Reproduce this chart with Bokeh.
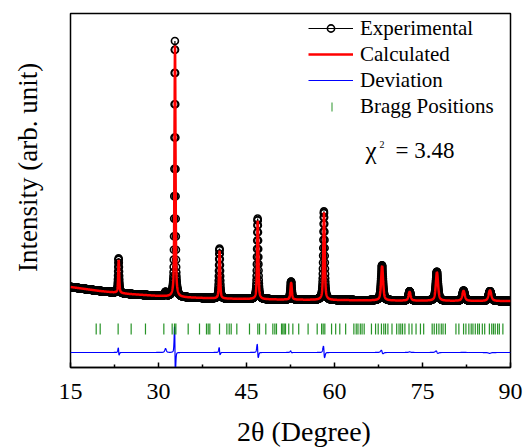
import numpy as np
from bokeh.plotting import figure
from bokeh.layouts import row, column
from bokeh.models import Range1d, FixedTicker, Legend, LegendItem, Label, ColumnDataSource
from bokeh.core.properties import value
from bokeh.embed import file_html
from bokeh.resources import INLINE

# ---------------- data ----------------
scan_start, scan_stop, scan_step = 15.0, 90.0, 0.02
bg_x = [15, 20, 25, 30, 35, 40, 50, 60, 70, 80, 90]
bg_y = [655, 615, 585, 565, 550, 540, 530, 524, 519, 516, 514]
peak_pos = [23.20, 31.20, 32.80, 40.40, 46.90, 52.60, 58.20, 68.10, 72.80, 77.45, 82.00, 86.50]
peak_fwhm = [0.20, 0.30, 0.20, 0.22, 0.25, 0.28, 0.28, 0.40, 0.42, 0.45, 0.50, 0.55]
exp_height = [345, 40, 2558, 500, 807, 180, 886, 352, 94, 291, 102, 98]
calc_height = [330, 0, 2520, 480, 785, 170, 877, 345, 88, 286, 100, 106]
calc_shift = [0.016, 0.0, 0.014, 0.012, 0.016, 0.010, 0.014, 0.015, 0.0, 0.014, 0.0, -0.005]
bragg_pos = [19.38, 20.06, 23.12, 25.34, 27.78, 30.91, 32.33, 32.73, 32.96, 35.06,
             36.99, 38.18, 38.47, 38.75, 40.40, 41.65, 42.05, 42.39, 43.35, 45.51,
             46.93, 47.22, 48.29, 49.49, 49.83, 50.11, 50.97, 51.19, 51.42, 51.65,
             52.20, 52.90, 53.90, 55.50, 57.05, 57.80, 58.07, 58.35, 59.50, 60.20,
             60.90, 61.90, 63.30, 63.70, 64.00, 64.40, 64.70, 65.06, 66.30, 67.00,
             67.45, 68.00, 68.40, 68.70, 69.10, 69.80, 70.60, 71.00, 71.30, 71.60,
             72.00, 72.70, 73.20, 73.90, 74.65, 75.20, 76.65, 77.00, 77.40, 77.80,
             78.20, 78.50, 78.90, 80.70, 81.20, 82.00, 82.40, 82.90, 83.30, 83.60,
             84.00, 84.40, 84.70, 85.20, 85.60, 86.40, 86.80, 87.10, 87.40, 87.80,
             88.10, 88.70]
bragg_low, bragg_high = 180, 290
chi2_text = "= 3.48"
x_ticks = [15, 30, 45, 60, 75, 90]
x_minor = [22.5, 37.5, 52.5, 67.5, 82.5]
x_title = "2θ (Degree)"
y_title = "Intensity (arb. unit)"

# ---------------- profiles ----------------
tt = np.arange(scan_start, scan_stop + scan_step / 2, scan_step)
background = np.interp(tt, bg_x, bg_y)


def pseudo_voigt(x, c, w, h, eta=0.6):
    d = (x - c) / w
    return h * (eta / (1 + 4 * d * d) + (1 - eta) * np.exp(-4 * np.log(2) * d * d))


y_exp = background.copy()
y_calc = background.copy()
for c, w, he, hc, s in zip(peak_pos, peak_fwhm, exp_height, calc_height, calc_shift):
    y_exp += pseudo_voigt(tt, c, w, he)
    y_calc += pseudo_voigt(tt, c + s, w, hc)
y_dev = y_exp - y_calc

src = ColumnDataSource(dict(x=tt, exp=y_exp, calc=y_calc, dev=y_dev))

FONT = "Liberation Serif"
YLAB_W = 46
TOP_H = 412


def blank_fig(w, h):
    f = figure(width=w, height=h, output_backend="svg", toolbar_location=None,
               x_range=Range1d(0, w), y_range=Range1d(0, h),
               min_border=0, min_border_left=0, min_border_right=0,
               min_border_top=0, min_border_bottom=0)
    f.axis.visible = False
    f.grid.visible = False
    f.outline_line_color = None
    f.background_fill_color = "white"
    f.border_fill_color = "white"
    return f


# ---------------- main figure ----------------
p = figure(width=524 - YLAB_W, height=TOP_H, output_backend="svg", toolbar_location=None,
           x_range=Range1d(15, 90), y_range=Range1d(-150, 3390),
           min_border_left=70 - YLAB_W, min_border_right=14, min_border_top=13,
           min_border_bottom=TOP_H - 367)
p.background_fill_color = "white"
p.border_fill_color = "white"
p.outline_line_color = "black"
p.outline_line_width = 1.5
p.grid.visible = False
p.yaxis.visible = False

ax = p.xaxis[0]
ax.ticker = FixedTicker(ticks=x_ticks, minor_ticks=x_minor)
ax.major_tick_in = 5
ax.major_tick_out = 0
ax.minor_tick_in = 3
ax.minor_tick_out = 0
ax.major_tick_line_width = 1.5
ax.minor_tick_line_width = 1.5
ax.axis_line_width = 1.5
ax.major_tick_line_color = "black"
ax.minor_tick_line_color = "black"
ax.axis_line_color = "black"
ax.major_label_text_font = FONT
ax.major_label_text_font_size = "24px"
ax.major_label_text_color = "black"
ax.major_label_standoff = 16

exp_line = p.line("x", "exp", source=src, line_color="black", line_width=1.2)
exp_circ = p.scatter("x", "exp", source=src, marker="circle", size=7,
                     line_color="black", line_width=1.6, fill_alpha=0)
calc_line = p.line("x", "calc", source=src, line_color="#ff0000", line_width=2.5)
dev_line = p.line("x", "dev", source=src, line_color="#0000ff", line_width=1.2)
bragg = p.segment(x0=bragg_pos, x1=bragg_pos, y0=[bragg_low] * len(bragg_pos),
                  y1=[bragg_high] * len(bragg_pos), line_color="#008000",
                  line_width=1.2, line_alpha=0.85)
bragg_dummy = p.segment(x0=[], x1=[], y0=[], y1=[], line_alpha=0)


def dx(px):
    return 15 + (px - 70) * 75 / 440


def dy(py):
    return (352 - py) * 10


# Bragg legend sample (vertical tick)
p.segment(x0=[dx(331.5)], x1=[dx(331.5)], y0=[dy(111)], y1=[dy(102)],
          line_color="#008000", line_width=1.2, line_alpha=0.7)

legend = Legend(items=[
    LegendItem(label="Experimental", renderers=[exp_line, exp_circ]),
    LegendItem(label="Calculated", renderers=[calc_line]),
    LegendItem(label="Deviation", renderers=[dev_line]),
    LegendItem(label="Bragg Positions", renderers=[bragg_dummy]),
], location=(238, 248), glyph_width=45, glyph_height=18, label_height=26,
    spacing=0, padding=0, margin=0, label_standoff=7,
    border_line_alpha=0, background_fill_alpha=0,
    label_text_font=FONT, label_text_font_size="21px", label_text_color="black")
p.add_layout(legend)

p.add_layout(Label(x=dx(365), y=dy(150), text="χ", text_font=FONT,
                   text_font_size="25px", text_baseline="alphabetic", text_color="black"))
p.add_layout(Label(x=dx(379), y=dy(144), text="2", text_font=FONT,
                   text_font_size="10px", text_baseline="alphabetic", text_color="black"))
p.add_layout(Label(x=dx(395), y=dy(150), text=chi2_text, text_font=FONT,
                   text_font_size="23px", text_baseline="alphabetic", text_color="black"))

# ---------------- axis titles (own small canvases) ----------------
ylab = blank_fig(YLAB_W, TOP_H)
ylab.text(x=[27.6], y=[TOP_H - 179], text=[y_title], angle=np.pi / 2,
          text_font=value(FONT), text_font_size=value("27px"), text_color="black",
          text_align="center", text_baseline="middle")

XLAB_H = 447 - TOP_H
xlab = blank_fig(524, XLAB_H)
xlab.text(x=[303.5], y=[XLAB_H - (431 - TOP_H)], text=[x_title],
          text_font=value(FONT), text_font_size=value("28px"), text_color="black",
          text_align="center", text_baseline="middle")

layout = column(row(ylab, p, spacing=0), xlab, spacing=0)

open("out.html", "w").write(file_html(layout, INLINE))
